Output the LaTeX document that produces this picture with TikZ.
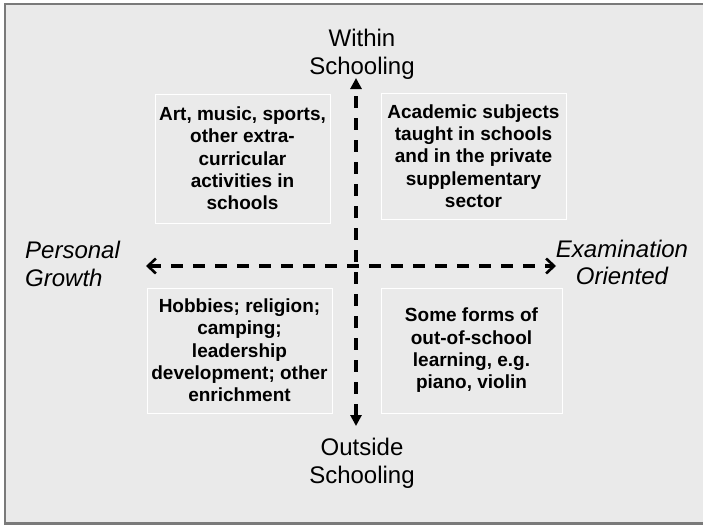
\documentclass[tikz,border=0pt]{standalone}
\usepackage{fontspec}
\setmainfont{Liberation Sans}
\usepackage{tikz}
\usetikzlibrary{arrows.meta}
\definecolor{paper}{RGB}{234,234,234}
\definecolor{framegray}{RGB}{122,122,122}

\begin{document}
\begin{tikzpicture}[x=1pt,y=-1pt,every node/.style={inner sep=0pt},
	quadrant/.style={draw=white,line width=0.8pt,align=center,font=\fontsize{19}{22.3}\selectfont\bfseries},
	axislabel/.style={align=center,font=\fontsize{24}{28}\selectfont},
	axis/.style={line width=3.2pt,dash pattern=on 12pt off 10pt}]
	
	\useasboundingbox (0,0) rectangle (703,525);
	\fill[white] (0,0) rectangle (703,525);
	\fill[paper] (5,4) rectangle (703,523);
	\draw[framegray,line width=2.4pt] (703,4) -- (5,4) -- (5,523.5) -- (703,523.5);
	
	% the four quadrants
	\node[quadrant,minimum width=175pt,minimum height=129pt] (arts) at (242.5,158.5) {Art, music, sports,\\other extra-\\curricular\\activities in\\schools};
	\node[quadrant,minimum width=185pt,minimum height=126pt] (academic) at (473.5,156) {Academic subjects\\taught in schools\\and in the private\\supplementary\\sector};
	\node[quadrant,minimum width=185pt,minimum height=125pt] (hobbies) at (239.5,350.5) {Hobbies; religion;\\camping;\\leadership\\development; other\\enrichment};
	\node[quadrant,minimum width=181pt,minimum height=125pt] (lessons) at (471.5,350.5) {Some forms of\\out-of-school\\learning, e.g.\\piano, violin};
	
	% axis labels
	\node[axislabel] (within) at (362,54) {Within\\Schooling};
	\node[axislabel] (outside) at (362,463) {Outside\\Schooling};
	\node[axislabel,align=left,anchor=west,font=\fontsize{24}{28.5}\selectfont\itshape] (personal) at (25,264) {Personal\\Growth};
	\node[axislabel,font=\fontsize{24}{27}\selectfont\itshape] (exam) at (622,262) {Examination\\Oriented};
	
	% axes
	\coordinate (topend) at (356,78);
	\coordinate (bottomend) at (356,426);
	\coordinate (leftend) at (146,266);
	\coordinate (rightend) at (556,266);
	\draw[axis,{Triangle[length=11pt,width=11pt]}-{Triangle[length=11pt,width=11pt]}] (bottomend) -- (topend);
	\draw[axis,{Straight Barb[length=8pt,width=15pt,line width=2.6pt]}-{Straight Barb[length=8pt,width=15pt,line width=2.6pt]}] (leftend) -- (rightend);
\end{tikzpicture}
\end{document}
